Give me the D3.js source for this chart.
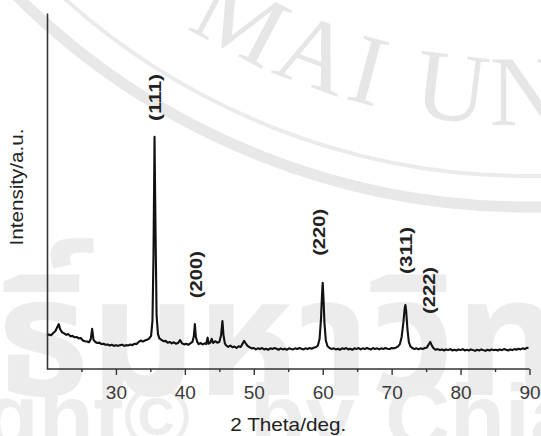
<!DOCTYPE html>
<html>
<head>
<meta charset="utf-8">
<script src="https://cdn.jsdelivr.net/npm/d3@7"></script>
<style>
  html, body { margin: 0; padding: 0; background: #ffffff; }
  svg { display: block; }
</style>
</head>
<body>
<svg id="chart" width="541" height="436"></svg>
<script>
// XRD pattern: diffraction angle (2θ, degrees) and intensity (arbitrary units)
const twoTheta = [
  20.0, 20.3, 20.6, 20.9, 21.2, 21.5, 21.7, 21.9, 22.2, 22.5, 22.8, 23.1, 23.4, 23.7, 24.0, 24.3,
  24.6, 24.9, 25.2, 25.5, 25.8, 26.1, 26.35, 26.55, 26.75, 27.0, 27.3, 27.6, 27.9, 28.2, 28.5, 28.8,
  29.1, 29.4, 29.7, 30.0, 30.3, 30.6, 30.9, 31.2, 31.5, 31.8, 32.1, 32.4, 32.7, 33.0, 33.3, 33.6,
  33.9, 34.2, 34.5, 34.8, 35.1, 35.3, 35.45, 35.6, 35.75, 35.9, 36.1, 36.3, 36.6, 36.9, 37.2, 37.5,
  37.8, 38.1, 38.4, 38.7, 39.0, 39.3, 39.6, 39.9, 40.2, 40.5, 40.8, 41.1, 41.3, 41.45, 41.6, 41.8,
  42.0, 42.3, 42.6, 42.9, 43.1, 43.3, 43.45, 43.7, 43.9, 44.1, 44.4, 44.7, 45.0, 45.25, 45.45, 45.6,
  45.8, 46.0, 46.3, 46.6, 46.9, 47.2, 47.5, 47.8, 48.1, 48.4, 48.6, 48.8, 49.1, 49.4, 49.7, 50.0,
  50.3, 50.6, 50.9, 51.2, 51.5, 51.8, 52.1, 52.4, 52.7, 53.0, 53.3, 53.6, 53.9, 54.2, 54.5, 54.8,
  55.1, 55.4, 55.7, 56.0, 56.3, 56.6, 56.9, 57.2, 57.5, 57.8, 58.1, 58.4, 58.7, 59.0, 59.3, 59.55,
  59.75, 59.9, 60.0, 60.1, 60.25, 60.45, 60.7, 61.0, 61.3, 61.6, 61.9, 62.2, 62.5, 62.8, 63.1, 63.4,
  63.7, 64.0, 64.3, 64.6, 64.9, 65.2, 65.5, 65.8, 66.1, 66.4, 66.7, 67.0, 67.3, 67.6, 67.9, 68.2,
  68.5, 68.8, 69.1, 69.4, 69.7, 70.0, 70.3, 70.6, 70.9, 71.2, 71.45, 71.7, 71.9, 72.0, 72.1, 72.3,
  72.5, 72.75, 73.0, 73.3, 73.6, 73.9, 74.2, 74.5, 74.8, 75.1, 75.35, 75.6, 75.85, 76.1, 76.4, 76.7,
  77.0, 77.3, 77.6, 77.9, 78.2, 78.5, 78.8, 79.1, 79.4, 79.7, 80.0, 80.3, 80.6, 80.9, 81.2, 81.5,
  81.8, 82.1, 82.4, 82.7, 83.0, 83.3, 83.6, 83.9, 84.2, 84.5, 84.8, 85.1, 85.4, 85.7, 86.0, 86.3,
  86.6, 86.9, 87.2, 87.5, 87.8, 88.1, 88.4, 88.7, 89.0, 89.3, 89.6, 89.85
];
const intensity = [
  9.4, 9.7, 9.5, 10.1, 10.6, 11.8, 12.6, 11.2, 10.3, 10.0, 9.6, 9.8, 9.2, 9.3, 8.9, 9.0,
  8.6, 8.7, 8.0, 7.8, 7.7, 7.5, 8.4, 11.3, 8.2, 7.6, 7.3, 7.4, 7.0, 7.1, 6.8, 6.9,
  6.6, 6.8, 6.5, 6.7, 6.5, 6.7, 6.8, 6.5, 6.7, 6.6, 6.9, 6.7, 7.1, 7.0, 7.6, 8.0,
  7.7, 8.0, 8.2, 8.5, 9.3, 13.5, 32.0, 65.2, 38.0, 15.0, 9.8, 8.6, 8.2, 7.8, 7.9, 7.4,
  7.6, 7.2, 7.5, 7.1, 7.3, 8.1, 7.2, 6.9, 7.1, 6.8, 7.2, 7.6, 9.2, 12.6, 9.0, 7.6,
  7.0, 7.3, 6.9, 7.2, 7.0, 8.8, 7.1, 7.4, 8.5, 7.3, 7.8, 7.4, 7.6, 9.4, 13.5, 9.6,
  7.2, 6.6, 6.2, 6.6, 6.1, 6.3, 5.9, 6.4, 6.2, 7.2, 7.9, 7.3, 6.5, 6.1, 5.8, 5.9,
  5.5, 5.8, 5.6, 5.9, 5.5, 5.7, 5.4, 5.8, 5.6, 5.9, 5.7, 5.4, 5.8, 5.5, 5.7, 5.4,
  5.8, 5.6, 5.5, 5.8, 5.6, 5.9, 5.7, 5.5, 5.8, 5.6, 5.9, 5.7, 6.0, 6.1, 6.6, 8.5,
  14.0, 21.0, 24.2, 20.5, 13.0, 8.0, 6.4, 5.9, 5.6, 5.8, 5.5, 5.7, 5.4, 5.8, 5.6, 5.9,
  5.5, 5.7, 5.4, 5.8, 5.6, 5.9, 5.5, 5.8, 5.6, 5.9, 5.7, 5.5, 5.9, 5.6, 5.8, 5.5,
  5.8, 5.6, 5.9, 5.7, 5.6, 5.9, 5.8, 6.0, 6.3, 7.0, 9.0, 13.0, 17.2, 18.0, 16.5, 11.0,
  7.5, 6.3, 5.9, 5.6, 5.8, 5.5, 5.8, 5.6, 5.9, 6.0, 6.8, 7.6, 6.5, 5.8, 5.4, 5.6,
  5.3, 5.5, 5.2, 5.5, 5.3, 5.6, 5.2, 5.4, 5.2, 5.5, 5.3, 5.6, 5.2, 5.4, 5.2, 5.5,
  5.3, 5.1, 5.4, 5.2, 5.5, 5.3, 5.1, 5.4, 5.2, 5.5, 5.3, 5.4, 5.2, 5.5, 5.3, 5.6,
  5.4, 5.2, 5.5, 5.3, 5.6, 5.4, 5.7, 5.5, 5.8, 5.6, 5.9, 6.0
];

// Axis ticks
const majorTicks = [30, 40, 50, 60, 70, 80, 90];
const minorTicks = [25, 35, 45, 55, 65, 75, 85];

// Indexed reflections
const peakLabels = ["(111)", "(200)", "(220)", "(311)", "(222)"];
const peakAngles = [35.6, 41.45, 60.0, 72.0, 75.6];
const peakHeights = [65.2, 12.6, 24.2, 18.0, 7.6];

const xTitle = "2 Theta/deg.";
const yTitle = "Intensity/a.u.";

// ---- layout ----
const plot = { left: 47, right: 529.5, top: 13, bottom: 369 };
const labelShift = [0.5, 1, -4, 1, -1];   // horizontal nudge of each hkl label
const labelGap = [16, 26, 27, 31, 28];     // space between peak top and label
const font = "'Liberation Sans', Arial, Helvetica, sans-serif";
const ink = "#222";

const svg = d3.select("#chart");

// ---- faint university watermark behind the plot ----
const wm = svg.append("g").attr("pointer-events", "none");
const seal = { cx: 528, cy: -518 };
wm.append("circle").attr("cx", seal.cx).attr("cy", seal.cy).attr("r", 725)
  .attr("fill", "none").attr("stroke", "#e8e8e8").attr("stroke-width", 11);
wm.append("circle").attr("cx", seal.cx).attr("cy", seal.cy).attr("r", 694)
  .attr("fill", "none").attr("stroke", "#ebebeb").attr("stroke-width", 4);
const rText = 643;
wm.append("path").attr("id", "sealArc")
  .attr("d", `M ${seal.cx - rText} ${seal.cy} A ${rText} ${rText} 0 0 0 ${seal.cx + rText} ${seal.cy}`)
  .attr("fill", "none");
wm.append("text")
  .attr("font-family", "'Liberation Serif', 'Times New Roman', serif")
  .attr("font-size", 100).attr("letter-spacing", 6).attr("fill", "#e6e6e6")
  .append("textPath").attr("href", "#sealArc").attr("startOffset", 650)
  .text("MAI UNIVERSITY");
wm.append("text")
  .attr("x", -405).attr("y", 395)
  .attr("font-family", "'Noto Sans Thai', 'Noto Sans', sans-serif")
  .attr("font-size", 165).attr("font-weight", "bold").attr("fill", "#ececec")
  .text("ลิขสิทธิ์มหาวิทยาลัยเชียงใหม่");
wm.append("text").attr("x", 190).attr("y", 448).attr("text-anchor", "end")
  .attr("font-family", font).attr("font-size", 90).attr("font-weight", "bold").attr("fill", "#ededed")
  .text("Copyright©");
wm.append("text").attr("x", 250).attr("y", 448)
  .attr("font-family", font).attr("font-size", 90).attr("font-weight", "bold").attr("fill", "#ededed")
  .text("by");
wm.append("text").attr("x", 385).attr("y", 448)
  .attr("font-family", font).attr("font-size", 90).attr("font-weight", "bold").attr("fill", "#ededed")
  .text("Chiang Mai University");

// ---- scales ----
const x = d3.scaleLinear().domain([20, 90]).range([plot.left, plot.right]);
const y = d3.scaleLinear().domain([0, 100]).range([plot.bottom, plot.top]);

// ---- diffraction trace ----
const points = twoTheta.map((t, i) => [t, intensity[i]]);
svg.append("path")
  .datum(points)
  .attr("fill", "none")
  .attr("stroke", "#111")
  .attr("stroke-width", 2.1)
  .attr("stroke-linejoin", "round")
  .attr("d", d3.line().x(d => x(d[0])).y(d => y(d[1])));

// ---- axes ----
const xAxisMajor = d3.axisBottom(x).tickValues(majorTicks).tickSize(6).tickPadding(11)
  .tickFormat(d3.format("d"));
const gx = svg.append("g").attr("transform", `translate(0,${plot.bottom})`).call(xAxisMajor);
gx.select(".domain").attr("d", `M${plot.left},0H${plot.right}`)
  .attr("stroke", "#333").attr("stroke-width", 1.6);
gx.selectAll(".tick line").attr("stroke", "#333").attr("stroke-width", 1.4);
gx.selectAll(".tick text")
  .attr("font-family", font).attr("font-size", 19).attr("fill", "#3a3a3a");

const xAxisMinor = d3.axisBottom(x).tickValues(minorTicks).tickSize(3).tickFormat("");
const gxm = svg.append("g").attr("transform", `translate(0,${plot.bottom})`).call(xAxisMinor);
gxm.select(".domain").remove();
gxm.selectAll(".tick line").attr("stroke", "#333").attr("stroke-width", 1.4);

const yAxis = d3.axisLeft(y).tickValues([]).tickSizeOuter(0);
const gy = svg.append("g").attr("transform", `translate(${plot.left},0)`).call(yAxis);
gy.select(".domain").attr("stroke", "#333").attr("stroke-width", 1.6);

// ---- axis titles ----
svg.append("text")
  .attr("x", (plot.left + plot.right) / 2).attr("y", 431)
  .attr("text-anchor", "middle")
  .attr("font-family", font).attr("font-size", 18.5).attr("fill", ink)
  .attr("textLength", 116).attr("lengthAdjust", "spacingAndGlyphs")
  .text(xTitle);

svg.append("text")
  .attr("transform", "translate(22.5,187) rotate(-90)")
  .attr("text-anchor", "middle")
  .attr("font-family", font).attr("font-size", 18).attr("fill", ink)
  .attr("textLength", 117).attr("lengthAdjust", "spacingAndGlyphs")
  .text(yTitle);

// ---- reflection labels ----
svg.append("g").selectAll("text")
  .data(peakLabels)
  .join("text")
  .attr("transform", (d, i) => {
    const lx = x(peakAngles[i]) + labelShift[i] + 6;
    const ly = y(peakHeights[i]) - labelGap[i];
    return `translate(${lx},${ly}) rotate(-90)`;
  })
  .attr("text-anchor", "start")
  .attr("font-family", font).attr("font-size", 17).attr("font-weight", "bold").attr("fill", ink)
  .attr("textLength", 47).attr("lengthAdjust", "spacingAndGlyphs")
  .text(d => d);
</script>
</body>
</html>
